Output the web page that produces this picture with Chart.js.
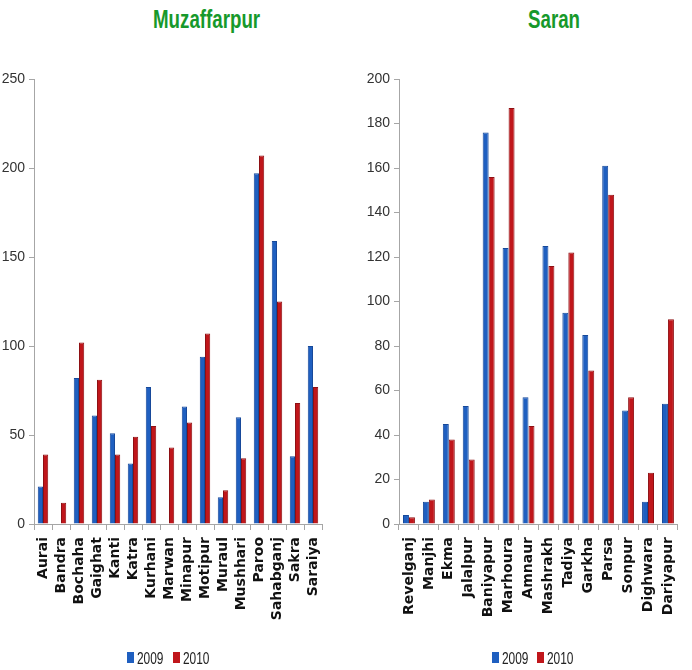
<!DOCTYPE html>
<html>
<head>
<meta charset="utf-8">
<script src="https://cdn.jsdelivr.net/npm/chart.js@4.4.1/dist/chart.umd.min.js"></script>
<style>
  html, body { margin:0; padding:0; background:#fff; width:692px; height:670px; overflow:hidden; }
  .wrap { position:absolute; top:0; width:346px; height:670px; }
  canvas { position:absolute; top:0; left:0; }
  .title { position:absolute; font-family:'Liberation Sans',Arial,sans-serif; font-weight:bold; font-size:26px; color:#17992b; transform:scale(0.72,1); transform-origin:left top; white-space:nowrap; line-height:1; }
  .lg { position:absolute; font-family:'Liberation Sans',Arial,sans-serif; font-size:17px; color:#222; line-height:1; white-space:nowrap; transform:scale(0.7,1); transform-origin:left top; }
  .box { position:absolute; width:7px; height:11px; }
</style>
</head>
<body>
<div class="title" style="left:153px; top:6px;">Muzaffarpur</div>
<div class="title" style="left:528px; top:6px;">Saran</div>

<div class="wrap" style="left:0px;"><canvas id="c1" width="346" height="670"></canvas></div>
<div class="wrap" style="left:346px;"><canvas id="c2" width="346" height="670"></canvas></div>

<div class="box" style="left:127px; top:652px; background:#1f5fc0;"></div>
<div class="lg" style="left:137px; top:650px;">2009</div>
<div class="box" style="left:173px; top:652px; background:#c0161b;"></div>
<div class="lg" style="left:183px; top:650px;">2010</div>

<div class="box" style="left:492px; top:652px; background:#1f5fc0;"></div>
<div class="lg" style="left:502px; top:650px;">2009</div>
<div class="box" style="left:537px; top:652px; background:#c0161b;"></div>
<div class="lg" style="left:547px; top:650px;">2010</div>

<script>
const seriesNames = ['2009', '2010'];

const muzCategories = ['Aurai','Bandra','Bochaha','Gaighat','Kanti','Katra','Kurhani','Marwan','Minapur','Motipur','Muraul','Mushhari','Paroo','Sahabganj','Sakra','Saraiya'];
const muz2009 = [21, 0, 82, 61, 51, 34, 77, 0, 66, 94, 15, 60, 197, 159, 38, 100];
const muz2010 = [39, 12, 102, 81, 39, 49, 55, 43, 57, 107, 19, 37, 207, 125, 68, 77];
const muzTicks = [0, 50, 100, 150, 200, 250];

const saranCategories = ['Revelganj','Manjhi','Ekma','Jalalpur','Baniyapur','Marhoura','Amnaur','Mashrakh','Tadiya','Garkha','Parsa','Sonpur','Dighwara','Dariyapur'];
const saran2009 = [4, 10, 45, 53, 176, 124, 57, 125, 95, 85, 161, 51, 10, 54];
const saran2010 = [3, 11, 38, 29, 156, 187, 44, 116, 122, 69, 148, 57, 23, 92];
const saranTicks = [0, 20, 40, 60, 80, 100, 120, 140, 160, 180, 200];

const TICKFONT = "'Liberation Sans', Arial, sans-serif";
const BLUE = '#1f5fc0', BLUE_B = '#17499a';
const RED = '#c0161b', RED_B = '#8e1013';
const AXIS = '#a6a6a6';

function makeChart(id, cats, s1, s2, ticks, cfg) {
  return new Chart(document.getElementById(id), {
    type: 'bar',
    data: {
      labels: cats,
      datasets: [
        { label: seriesNames[0], data: s1, backgroundColor: BLUE, borderColor: BLUE_B, borderWidth: 1,
          categoryPercentage: cfg.catPct, barPercentage: 1 },
        { label: seriesNames[1], data: s2, backgroundColor: RED, borderColor: RED_B, borderWidth: 1,
          categoryPercentage: cfg.catPct, barPercentage: 1 }
      ]
    },
    options: {
      responsive: false,
      animation: false,
      devicePixelRatio: 1,
      layout: { padding: { top: 79, right: cfg.padRight, left: 0, bottom: 0 } },
      plugins: { legend: { display: false }, tooltip: { enabled: false }, title: { display: false } },
      scales: {
        x: {
          ticks: { minRotation: 90, maxRotation: 90, autoSkip: false, padding: 7, color: '#111',
                   font: { family: "'DejaVu Sans', sans-serif", weight: 'bold', size: 14 } },
          grid: { drawOnChartArea: false, drawTicks: true, tickLength: 6, color: AXIS, offset: true },
          border: { color: AXIS, width: 1 },
          afterFit: s => { s.height = 146; }
        },
        y: {
          min: ticks[0], max: ticks[ticks.length - 1],
          ticks: { stepSize: ticks[1] - ticks[0], padding: 4, color: '#333', font: { family: TICKFONT, size: 14 } },
          grid: { drawOnChartArea: false, drawTicks: true, tickLength: 5, color: AXIS },
          border: { color: AXIS, width: 1 },
          afterFit: s => { s.width = cfg.yWidth; }
        }
      }
    }
  });
}

makeChart('c1', muzCategories, muz2009, muz2010, muzTicks, { catPct: 0.58, padRight: 24, yWidth: 34 });
makeChart('c2', saranCategories, saran2009, saran2010, saranTicks, { catPct: 0.6, padRight: 7, yWidth: 53 });
</script>
</body>
</html>
